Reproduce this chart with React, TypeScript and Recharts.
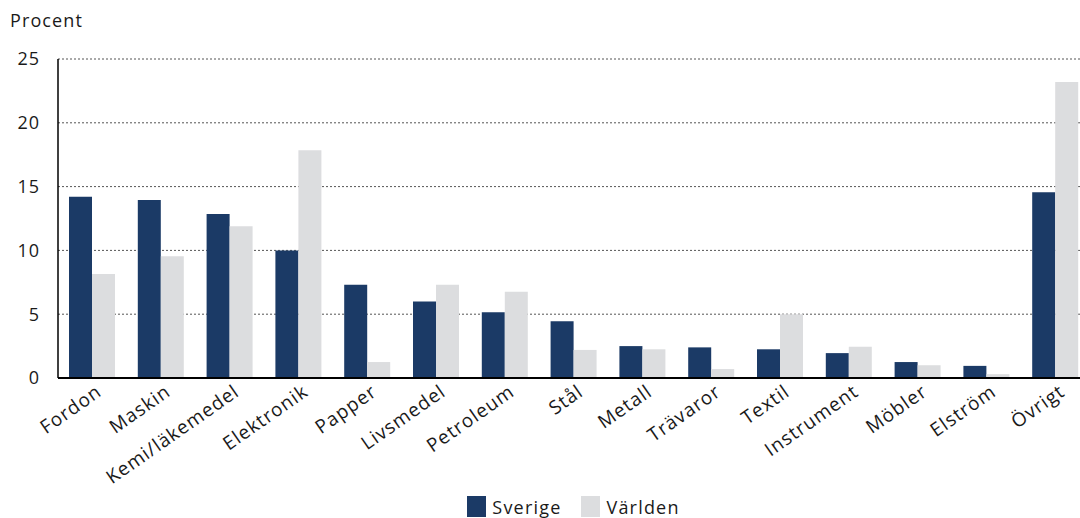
import { BarChart, Bar, XAxis, YAxis, CartesianGrid, Legend } from 'recharts';

const categories = [
    'Fordon', 'Maskin', 'Kemi/läkemedel', 'Elektronik', 'Papper', 'Livsmedel', 'Petroleum',
    'Stål', 'Metall', 'Trävaror', 'Textil', 'Instrument', 'Möbler', 'Elström', 'Övrigt',
];
const sverige = [14.2, 13.95, 12.85, 10.0, 7.3, 6.0, 5.15, 4.45, 2.5, 2.4, 2.25, 1.95, 1.25, 0.95, 14.55];
const varlden = [8.15, 9.55, 11.9, 17.85, 1.25, 7.3, 6.75, 2.2, 2.25, 0.7, 5.0, 2.45, 1.0, 0.3, 23.2];
const yTicks = [0, 5, 10, 15, 20, 25];

const data = categories.map((name, i) => ({ name, Sverige: sverige[i], Världen: varlden[i] }));

const font = '"Open Sans", "Noto Sans", sans-serif';
const textColor = '#1a1a1a';

const AngledTick = (props: any) => {
    const { x, y, payload } = props;
    return (
        <g transform={`translate(${x + 6},${y + 2})`}>
            <text
                textAnchor="end"
                transform="rotate(-35)"
                fontSize={19}
                letterSpacing={1}
                fill={textColor}
                fontFamily={font}
                dy={8}
            >
                {payload.value}
            </text>
        </g>
    );
};

// legend drawn by hand so the squares match the reference (19x21)
const LegendContent = (props: any) => {
    const { payload } = props;
    return (
        <div style={{ display: 'flex', justifyContent: 'center', alignItems: 'flex-end', gap: 20 }}>
            {(payload || []).map((item: any) => (
                <div key={item.value} style={{ display: 'flex', alignItems: 'flex-end' }}>
                    <span style={{ display: 'inline-block', width: 19, height: 21, background: item.color, marginRight: 6 }} />
                    <span style={{ fontSize: 18, letterSpacing: 1.2, fontFamily: font, color: textColor, lineHeight: '20px' }}>
                        {item.value}
                    </span>
                </div>
            ))}
        </div>
    );
};

const App = () => {
    return (
        <div style={{ position: 'absolute', left: 0, top: 0, width: 1080, height: 518, background: '#fff', overflow: 'hidden' }}>
            <div style={{ position: 'absolute', left: 10, top: 8, fontSize: 18, letterSpacing: 1.1, fontFamily: font, color: textColor }}>
                Procent
            </div>
            <BarChart
                width={1090}
                height={518}
                data={data}
                margin={{ top: 59, right: 0, left: 0, bottom: 0 }}
                barSize={23}
                barGap={0}
            >
                <CartesianGrid vertical={false} stroke="#555" strokeDasharray="2 2" />
                <XAxis
                    dataKey="name"
                    interval={0}
                    tickLine={false}
                    axisLine={{ stroke: '#000', strokeWidth: 2 }}
                    height={116}
                    tick={<AngledTick />}
                />
                <YAxis
                    width={58}
                    domain={[0, 25]}
                    ticks={yTicks}
                    tickLine={false}
                    axisLine={{ stroke: '#000', strokeWidth: 1.5 }}
                    tick={{ fontSize: 18, fill: textColor, fontFamily: font, letterSpacing: 1 }}
                    tickMargin={12}
                />
                <Legend
                    verticalAlign="bottom"
                    height={24}
                    content={<LegendContent />}
                    wrapperStyle={{ left: 58, width: 1031, bottom: -2 }}
                />
                <Bar dataKey="Sverige" fill="#1b3a66" isAnimationActive={false} />
                <Bar dataKey="Världen" fill="#dcdddf" isAnimationActive={false} />
            </BarChart>
        </div>
    );
};

export default App;
